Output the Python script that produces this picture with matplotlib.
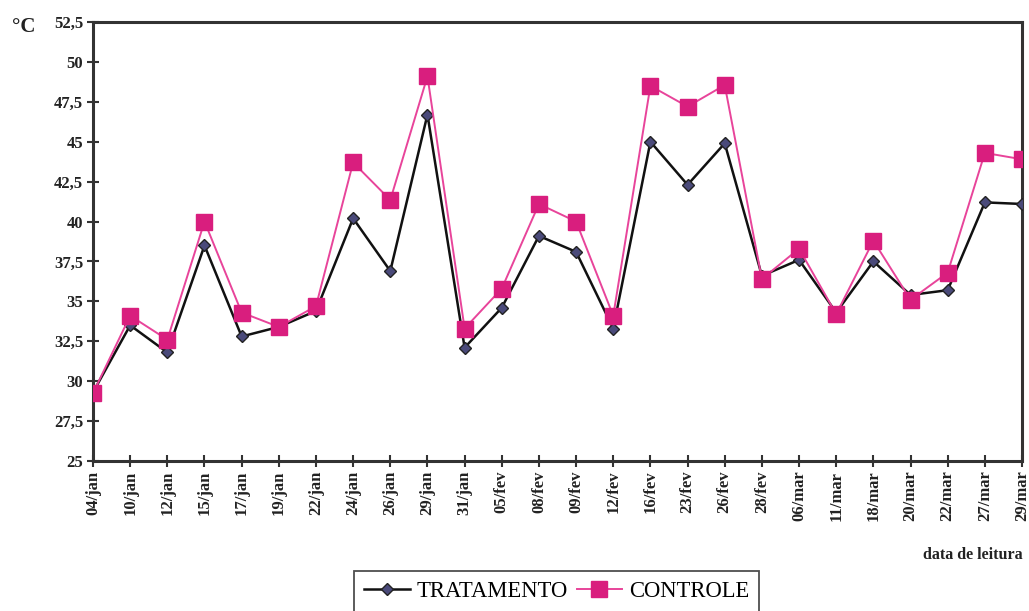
import matplotlib
matplotlib.use("Agg")
import matplotlib.pyplot as plt
from matplotlib.ticker import FuncFormatter, MultipleLocator

dates = ["04/jan", "10/jan", "12/jan", "15/jan", "17/jan", "19/jan", "22/jan",
         "24/jan", "26/jan", "29/jan", "31/jan", "05/fev", "08/fev", "09/fev",
         "12/fev", "16/fev", "23/fev", "26/fev", "28/fev", "06/mar", "11/mar",
         "18/mar", "20/mar", "22/mar", "27/mar", "29/mar"]
tratamento = [29.3, 33.5, 31.8, 38.5, 32.8, 33.4, 34.4, 40.2, 36.9, 46.7,
              32.1, 34.6, 39.1, 38.1, 33.3, 45.0, 42.3, 44.9, 36.6, 37.6,
              34.3, 37.5, 35.4, 35.7, 41.2, 41.1]
controle = [29.25, 34.1, 32.6, 40.0, 34.3, 33.4, 34.7, 43.7, 41.35, 49.1,
            33.3, 35.8, 41.1, 40.0, 34.1, 48.5, 47.2, 48.55, 36.4, 38.3,
            34.2, 38.8, 35.1, 36.8, 44.3, 43.9]

plt.rcParams['font.family'] = ['Liberation Serif', 'DejaVu Serif']
plt.rcParams['font.weight'] = 'bold'

fig = plt.figure(figsize=(10.29, 6.11), dpi=100)
ax = fig.add_axes([0.0904, 0.2455, 0.9028, 0.7185])

x = list(range(len(dates)))
ax.plot(x, tratamento, color='#111111', lw=1.8, marker='D', markersize=6,
        markerfacecolor='#4a4a7a', markeredgecolor='#222222', label='TRATAMENTO', zorder=3)
ax.plot(x, controle, color='#e8449a', lw=1.4, marker='s', markersize=11.5,
        markerfacecolor='#d91e7e', markeredgecolor='#d91e7e', label='CONTROLE', zorder=4)

ax.set_xlim(0, len(dates) - 1)
ax.set_ylim(25, 52.5)
ax.yaxis.set_major_locator(MultipleLocator(2.5))
ax.yaxis.set_major_formatter(FuncFormatter(
    lambda v, p: (f"{v:g}").replace('.', ',')))
ax.set_xticks(x)
ax.set_xticklabels(dates, rotation=90, fontsize=12, fontweight='bold')
for lab in ax.get_yticklabels():
    lab.set_fontsize(12)
    lab.set_fontweight('bold')

for s in ax.spines.values():
    s.set_color('#333333')
    s.set_linewidth(2.2)
ax.tick_params(axis='both', direction='inout', length=8, width=1.5, color='#333333',
               labelcolor='#222222')
ax.tick_params(axis='y', pad=3)
ax.tick_params(axis='x', pad=3)

fig.text(0.012, 0.955, "°C", fontsize=15, fontweight='bold', ha='left', va='center',
         color='#222222')
fig.text(0.994, 0.092, "data de leitura", fontsize=11.5, fontweight='bold',
         ha='right', va='center', color='#222222')

leg = fig.legend(loc='center', bbox_to_anchor=(0.541, 0.032), ncol=2, frameon=True,
                 fancybox=False, edgecolor='#222222',
                 handlelength=2.0, handletextpad=0.3, columnspacing=0.4,
                 borderpad=0.45, prop={'size': 16.3, 'weight': 'normal'})
leg.get_frame().set_linewidth(1.3)

fig.savefig("out.png", dpi=100)
